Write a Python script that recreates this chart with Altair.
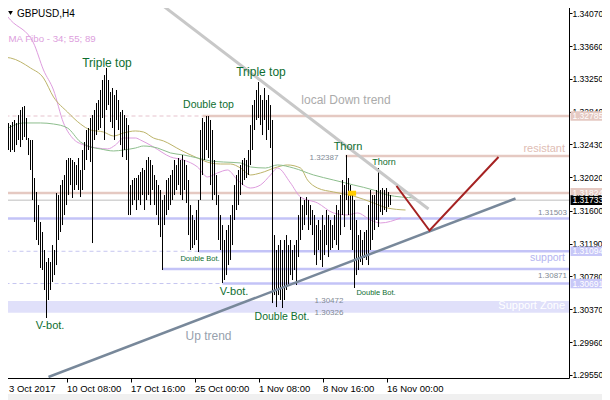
import altair as alt
import pandas as pd

symbol = "GBPUSD,H4"
indicator = "MA Fibo - 34; 55; 89"

# ---- H4 bars (high / low), one per 4-hour bar ----
bar_high = [1.32797, 1.32760, 1.32672, 1.32697, 1.32672, 1.32710, 1.32735, 1.32697, 1.32797, 1.32860,
            1.32897, 1.32910, 1.32760, 1.32510, 1.32485, 1.32485, 1.32010, 1.31835, 1.31672, 1.31460,
            1.31335, 1.31110, 1.30960, 1.31010, 1.30960, 1.31172, 1.31110, 1.31822, 1.31797, 1.31922,
            1.31985, 1.32047, 1.32235, 1.32260, 1.32260, 1.32235, 1.32210, 1.32172, 1.32260, 1.32110,
            1.32360, 1.32460, 1.32610, 1.32635, 1.32760, 1.32797, 1.32860, 1.32947, 1.32985, 1.33110,
            1.33235, 1.33297, 1.33385, 1.33235, 1.33085, 1.33135, 1.33047, 1.33110, 1.32985, 1.32835,
            1.32860, 1.32797, 1.32760, 1.32672, 1.31922, 1.31985, 1.32010, 1.32010, 1.32047, 1.32085,
            1.32135, 1.32110, 1.32235, 1.32272, 1.32235, 1.32172, 1.32047, 1.31985, 1.31922, 1.31860,
            1.31735, 1.31797, 1.31985, 1.32010, 1.32047, 1.32110, 1.32235, 1.32172, 1.32260, 1.32235,
            1.32297, 1.32235, 1.32172, 1.31985, 1.31672, 1.31547, 1.31485, 1.31610, 1.31735, 1.32610,
            1.32760, 1.32710, 1.32785, 1.32785, 1.32735, 1.32610, 1.32235, 1.32047, 1.31797, 1.31547,
            1.31422, 1.31235, 1.31360, 1.31422, 1.31547, 1.31672, 1.31922, 1.32047, 1.32110, 1.32172,
            1.32235, 1.32260, 1.32235, 1.32360, 1.32672, 1.32922, 1.32985, 1.33110, 1.33210, 1.33047,
            1.32985, 1.33135, 1.32985, 1.33047, 1.32922, 1.32735, 1.31297, 1.31110, 1.31172, 1.31235,
            1.31110, 1.31235, 1.31297, 1.31172, 1.31235, 1.31110, 1.31172, 1.31235, 1.31547, 1.31772,
            1.31672, 1.31735, 1.31772, 1.31735, 1.31672, 1.31610, 1.31547, 1.31422, 1.31485, 1.31360,
            1.31547, 1.31422, 1.31610, 1.31547, 1.31485, 1.31422, 1.31547, 1.31672, 1.31610, 1.31797,
            1.31985, 1.31922, 1.32297, 1.32010, 1.31922, 1.31797, 1.31735, 1.31485, 1.31297, 1.31360,
            1.31235, 1.31335, 1.31360, 1.31672, 1.31860, 1.31797, 1.31797, 1.31860, 1.32135, 1.31860,
            1.31885, 1.31860, 1.31885, 1.31835, 1.31797]
bar_low = [1.32272, 1.32485, 1.32210, 1.32360, 1.32335, 1.32360, 1.32335, 1.32422, 1.32485, 1.32397,
           1.32485, 1.32522, 1.32485, 1.32297, 1.32110, 1.31735, 1.31460, 1.31235, 1.31172, 1.30885,
           1.30860, 1.30610, 1.30260, 1.30485, 1.30610, 1.30710, 1.30797, 1.30922, 1.31235, 1.31335,
           1.31422, 1.31547, 1.31672, 1.31797, 1.31922, 1.31760, 1.31860, 1.31922, 1.31860, 1.31772,
           1.31860, 1.32110, 1.32235, 1.32360, 1.32210, 1.31197, 1.32485, 1.32547, 1.32610, 1.32635,
           1.32760, 1.32485, 1.32860, 1.32922, 1.32710, 1.32635, 1.32485, 1.32735, 1.32610, 1.32422,
           1.32272, 1.32360, 1.32235, 1.31547, 1.31547, 1.31672, 1.31735, 1.31610, 1.31735, 1.31672,
           1.31797, 1.31610, 1.31735, 1.31797, 1.31672, 1.31860, 1.31672, 1.31547, 1.31422, 1.31272,
           1.30860, 1.31422, 1.31547, 1.31610, 1.31672, 1.31735, 1.31797, 1.31860, 1.31922, 1.31797,
           1.31735, 1.31860, 1.31697, 1.31297, 1.31110, 1.31135, 1.31172, 1.31235, 1.31085, 1.31735,
           1.32047, 1.32235, 1.32360, 1.32260, 1.31922, 1.31735, 1.31797, 1.31672, 1.31235, 1.31110,
           1.30697, 1.30735, 1.30797, 1.30922, 1.30985, 1.31172, 1.31485, 1.31610, 1.31672, 1.31797,
           1.31922, 1.31985, 1.32010, 1.32047, 1.32172, 1.32360, 1.32610, 1.32735, 1.32760, 1.32672,
           1.32547, 1.32735, 1.32485, 1.32610, 1.32385, 1.30447, 1.30547, 1.30397, 1.30547, 1.30485,
           1.30385, 1.30485, 1.30610, 1.30672, 1.30797, 1.30735, 1.30860, 1.30672, 1.31022, 1.31235,
           1.31360, 1.31422, 1.31547, 1.31360, 1.31422, 1.31297, 1.31047, 1.30922, 1.31110, 1.30985,
           1.30897, 1.31047, 1.31172, 1.31022, 1.31110, 1.31135, 1.31235, 1.31172, 1.31110, 1.31297,
           1.31547, 1.31397, 1.31735, 1.31547, 1.31360, 1.31110, 1.30635, 1.30797, 1.30860, 1.30960,
           1.30922, 1.31010, 1.30985, 1.30922, 1.31110, 1.31235, 1.31360, 1.31485, 1.31397, 1.31585,
           1.31547, 1.31610, 1.31585, 1.31647, 1.31672]

# ---- moving averages (bar index, price) ----
ma34_i = [-1, 4, 15.5, 20.5, 25.5, 30.5, 35, 40.5, 47.5, 52.5, 56.5, 60.5, 66.5, 69, 75.5, 84, 90.5,
          97.5, 102.5, 107.5, 112.5, 117.5, 124, 129, 134, 137.5, 144, 149, 157.5, 165.5, 172.5,
          177.5, 184, 189, 199]
ma34_p = [1.34135, 1.33985, 1.33698, 1.33360, 1.33110, 1.32698, 1.32510, 1.32423, 1.32385, 1.32373,
          1.32423, 1.32510, 1.32510, 1.32485, 1.32398, 1.32273, 1.32235, 1.32148, 1.32023, 1.32073,
          1.32110, 1.31985, 1.31885, 1.31923, 1.32048, 1.32135, 1.31948, 1.31773, 1.31698, 1.31573,
          1.31548, 1.31573, 1.31485, 1.31448, 1.31510]
ma55_i = [-1, 4, 14, 20.5, 25.5, 32.5, 39, 44, 50.5, 55.5, 60.5, 66.5, 70.5, 75.5, 80.5, 89, 97.5,
          104, 109, 114, 119, 124, 129, 137.5, 142.5, 149, 152.5, 157.5, 165.5, 175.5, 185.5, 192.5, 201.5]
ma55_p = [1.33523, 1.33510, 1.33385, 1.33260, 1.33023, 1.32835, 1.32685, 1.32610, 1.32585, 1.32535,
          1.32573, 1.32598, 1.32585, 1.32510, 1.32473, 1.32360, 1.32260, 1.32198, 1.32185, 1.32185,
          1.32135, 1.32048, 1.32073, 1.32148, 1.32173, 1.32135, 1.31985, 1.31885, 1.31835, 1.31785,
          1.31698, 1.31635, 1.31610]
ma89_i = [-1, 4, 10.5, 19, 25.5, 32.5, 39, 44, 49, 55.5, 60.5, 66.5, 70.5, 77.5, 84, 90.5, 97.5, 104,
          110.5, 119, 124, 131.5, 137.5, 145.5, 155.5, 165.5, 175.5, 185.5, 192.5, 206.5]
ma89_p = [1.32573, 1.32648, 1.32698, 1.32698, 1.32685, 1.32635, 1.32460, 1.32398, 1.32373, 1.32348,
          1.32360, 1.32385, 1.32410, 1.32385, 1.32323, 1.32298, 1.32260, 1.32223, 1.32210, 1.32198,
          1.32148, 1.32135, 1.32173, 1.32135, 1.32048, 1.31985, 1.31923, 1.31860, 1.31798, 1.31760]

# ---- axes ----
tick_idx = [0, 32, 64, 96, 128, 160, 192]
tick_lbl = ["3 Oct 2017", "10 Oct 08:00", "17 Oct 16:00", "25 Oct 00:00",
            "1 Nov 08:00", "8 Nov 16:00", "16 Nov 00:00"]
price_ticks = [1.34070, 1.33660, 1.33250, 1.32840, 1.32430, 1.32020, 1.31600,
               1.31190, 1.30780, 1.30370, 1.29960, 1.29550]

# ---- horizontal levels ----
level_price = [1.32785, 1.32285, 1.31824, 1.31733, 1.31503, 1.31094, 1.30871, 1.30691]
level_kind = ["res", "res", "res", "last", "sup", "sup", "sup", "sup"]
level_from = [100, 171.5, -1, -1, -1, 98, 80, 110]
level_dash = [True, False, False, False, False, True, False, True]
zone_top, zone_bottom = 1.30472, 1.30326

# price markers on the axis
marker_price = [1.32785, 1.31824, 1.31733, 1.31094, 1.30691]
marker_kind = ["res", "res", "last", "sup", "sup"]

# ---- trend lines ----
down_i, down_p = [76.5, 213], [1.34235, 1.31622]
up_i, up_p = [23, 256.5], [1.29522, 1.31754]
arrow_i, arrow_p = [197, 213.5, 248], [1.31910, 1.31354, 1.32272]
box_i, box_p = [172.8, 176.8], [1.31851, 1.31789]

# ---- annotations ----
ann = [
    ("Triple top", 52.25, 1.33448, 12, "pattern", "center"),
    ("Triple top", 129.25, 1.33335, 12, "pattern", "center"),
    ("Double top", 103, 1.32923, 10.5, "pattern", "center"),
    ("Thorn", 172.75, 1.32398, 11, "pattern", "center"),
    ("Thorn", 190.75, 1.32210, 9, "pattern", "center"),
    ("V-bot.", 23.75, 1.30160, 11, "pattern", "center"),
    ("V-bot.", 115.75, 1.30585, 11, "pattern", "center"),
    ("Double Bot.", 139.75, 1.30273, 10.5, "pattern", "center"),
    ("Double Bot.", 98.75, 1.30998, 7.5, "pattern", "center"),
    ("Double Bot.", 186.75, 1.30573, 7.5, "pattern", "center"),
    ("local Down trend", 171.75, 1.32991, 12, "downtrend", "center"),
    ("Up trend", 103, 1.30035, 12, "uptrend", "center"),
    ("1.32387", 160.75, 1.32260, 8, "price", "center"),
    ("1.30472", 163.25, 1.30473, 8, "price", "center"),
    ("1.30326", 163.25, 1.30323, 8, "price", "center"),
    ("1.31503", 282.25, 1.31573, 8, "price", "right"),
    ("1.30871", 282.25, 1.30785, 8, "price", "right"),
    ("resistant", 281.25, 1.32373, 11, "res", "right"),
    ("support", 281.25, 1.31010, 10.5, "sup", "right"),
    ("Support Zone", 281.25, 1.30410, 11, "zone", "right"),
]

# ---------------- styles ----------------
COL = {"res": "#E5C9C2", "sup": "#C3C3F7", "last": "#BEBEBE"}
DASH_COL = {"res": "#E6C3CD", "sup": "#C6C6F0"}
WID = {"res": 2.5, "sup": 2.5, "last": 1}
TXT_COL = {"pattern": "#0E6E30", "downtrend": "#ABABAB", "uptrend": "#97A1AD",
           "price": "#7F8A96", "res": "#E0BDB4", "sup": "#B4B4F0", "zone": "#FFFFFF"}
BOX_COL = {"res": "#E5C9C2", "sup": "#C8C8F8", "last": "#000000"}
FONT = "Liberation Sans"

xs = alt.Scale(domain=[-0.75, 283.25], nice=False, zero=False)
ys = alt.Scale(domain=[1.29510, 1.34210], nice=False, zero=False)
label_expr = "".join(f"datum.value == {t} ? '{l}' : " for t, l in zip(tick_idx, tick_lbl)) + "''"
x_axis = alt.Axis(values=tick_idx, labelExpr=label_expr, title=None, grid=False, domain=False,
                  tickSize=4, labelAlign="left", labelPadding=1, labelFlush=False,
                  labelOverlap=False, orient="bottom", zindex=0,
                  labelOffset={"condition": {"test": "datum.value == 0", "value": 6}, "value": 0})
y_axis = alt.Axis(values=price_ticks, format=".5f", title=None, grid=False, domain=False,
                  tickSize=3, labelPadding=0, labelOverlap=False, labelFlush=False,
                  orient="right", zindex=0, labelFontSize=8.5)


def X(f):
    return alt.X(f, type="quantitative", scale=xs, axis=x_axis)


def Y(f):
    return alt.Y(f, type="quantitative", scale=ys, axis=y_axis)


# data frames
bars = pd.DataFrame({"i": list(range(len(bar_high))), "high": bar_high, "low": bar_low})
ma = pd.concat([
    pd.DataFrame({"i": ma34_i, "p": ma34_p, "c": "#DE9CDE", "s": "ma34"}),
    pd.DataFrame({"i": ma55_i, "p": ma55_p, "c": "#BDB46A", "s": "ma55"}),
    pd.DataFrame({"i": ma89_i, "p": ma89_p, "c": "#8DBE8D", "s": "ma89"}),
])
solid = pd.DataFrame({"p": level_price, "i0": level_from, "i1": 285,
                      "c": [COL[k] for k in level_kind], "w": [WID[k] for k in level_kind]})
dashed = pd.DataFrame({"p": [p for p, d in zip(level_price, level_dash) if d],
                       "i0": -2, "i1": [f for f, d in zip(level_from, level_dash) if d],
                       "c": [DASH_COL[k] for k, d in zip(level_kind, level_dash) if d]})
zone = pd.DataFrame({"i0": [-2], "i1": [285], "top": [zone_top], "bot": [zone_bottom]})
markers = pd.DataFrame({"p": marker_price, "c": [BOX_COL[k] for k in marker_kind]})
down = pd.DataFrame({"i": down_i, "p": down_p})
up = pd.DataFrame({"i": up_i, "p": up_p})
arrow = pd.DataFrame({"i": arrow_i, "p": arrow_p, "o": list(range(len(arrow_i)))})
ybox = pd.DataFrame({"i0": [box_i[0]], "i1": [box_i[1]], "p0": [box_p[0]], "p1": [box_p[1]]})
ann_df = pd.DataFrame(ann, columns=["t", "i", "p", "s", "k", "a"])
ann_df["c"] = [TXT_COL[k] for k in ann_df["k"]]
one = pd.DataFrame({"t": [symbol]})
ind = pd.DataFrame({"t": [indicator]})

layers = []
layers.append(alt.Chart(zone).mark_rect(color="#E0E0FA", clip=True).encode(
    x=X("i0"), x2="i1", y=Y("top"), y2="bot"))
layers.append(alt.Chart(dashed).mark_rule(strokeDash=[4, 3], strokeWidth=1, clip=True).encode(
    x=X("i0"), x2="i1", y=Y("p"), color=alt.Color("c:N", scale=None)))
layers.append(alt.Chart(solid).mark_rule(clip=True).encode(
    x=X("i0"), x2="i1", y=Y("p"), color=alt.Color("c:N", scale=None),
    strokeWidth=alt.StrokeWidth("w:Q", scale=None)))
layers.append(alt.Chart(ma).mark_line(strokeWidth=1, clip=True, interpolate="monotone").encode(
    x=X("i"), y=Y("p"), detail="s:N", color=alt.Color("c:N", scale=None)))
layers.append(alt.Chart(bars).mark_rule(color="black", strokeWidth=1, clip=True).encode(
    x=X("i"), y=Y("low"), y2="high"))
layers.append(alt.Chart(ybox).mark_rect(color="#FFCC00", clip=True).encode(
    x=X("i0"), x2="i1", y=Y("p0"), y2="p1"))
layers.append(alt.Chart(down).mark_line(color="#C8C8C8", strokeWidth=3, clip=True).encode(
    x=X("i"), y=Y("p")))
layers.append(alt.Chart(up).mark_line(color="#78889A", strokeWidth=2.5, clip=True).encode(
    x=X("i"), y=Y("p")))
layers.append(alt.Chart(arrow).mark_line(color="#A52222", strokeWidth=2, clip=True).encode(
    x=X("i"), y=Y("p"), order="o:Q"))
for a in ["center", "left", "right"]:
    sub = ann_df[ann_df["a"] == a]
    if len(sub):
        layers.append(alt.Chart(sub).mark_text(font=FONT, align=a, baseline="middle").encode(
            x=X("i"), y=Y("p"), text="t:N", size=alt.Size("s:Q", scale=None),
            color=alt.Color("c:N", scale=None)))
# price markers on the right axis
layers.append(alt.Chart(markers).transform_calculate(
    hi="datum.p + 0.00060", lo="datum.p - 0.00060").mark_rect().encode(
    x=alt.value(569.5), x2=alt.value(612), y=Y("hi"), y2="lo",
    color=alt.Color("c:N", scale=None)))
layers.append(alt.Chart(markers).mark_text(font=FONT, fontSize=8.5, align="left",
                                           baseline="middle", color="white").encode(
    x=alt.value(571.5), y=Y("p"), text=alt.Text("p:Q", format=".5f")))
# header
layers.append(alt.Chart(one).mark_point(shape="triangle-down", filled=True, size=22,
                                        color="black", opacity=1).encode(
    x=alt.value(9.5), y=alt.value(11)))
layers.append(alt.Chart(one).mark_text(font=FONT, fontSize=10, align="left", baseline="middle",
                                       color="black").encode(
    x=alt.value(16), y=alt.value(11.5), text="t:N"))
layers.append(alt.Chart(ind).mark_text(font=FONT, fontSize=9.7, align="left", baseline="middle",
                                       color="#DDA0DD").encode(
    x=alt.value(7.5), y=alt.value(37), text="t:N"))
layers.append(alt.Chart(one).mark_point(shape="triangle-down", filled=True, size=40,
                                        color="#A8A8A8", opacity=1).encode(
    x=alt.value(391), y=alt.value(1)))
layers.append(alt.Chart(one).mark_rect(color="#F0F0F0").encode(
    x=alt.value(-8), x2=alt.value(620), y=alt.value(392), y2=alt.value(400)))

chart = alt.layer(*layers).properties(
    width=568, height=376,
    padding={"left": -7, "top": -6, "right": 33, "bottom": 26},
    autosize=alt.AutoSizeParams(type="none"),
    background="white",
).configure_view(stroke="black", strokeWidth=1).configure_axis(
    labelFont=FONT, labelFontSize=9.5, labelColor="black", tickColor="black", tickWidth=1)

chart.save("out.html", embed_options={"renderer": "svg", "actions": False})
